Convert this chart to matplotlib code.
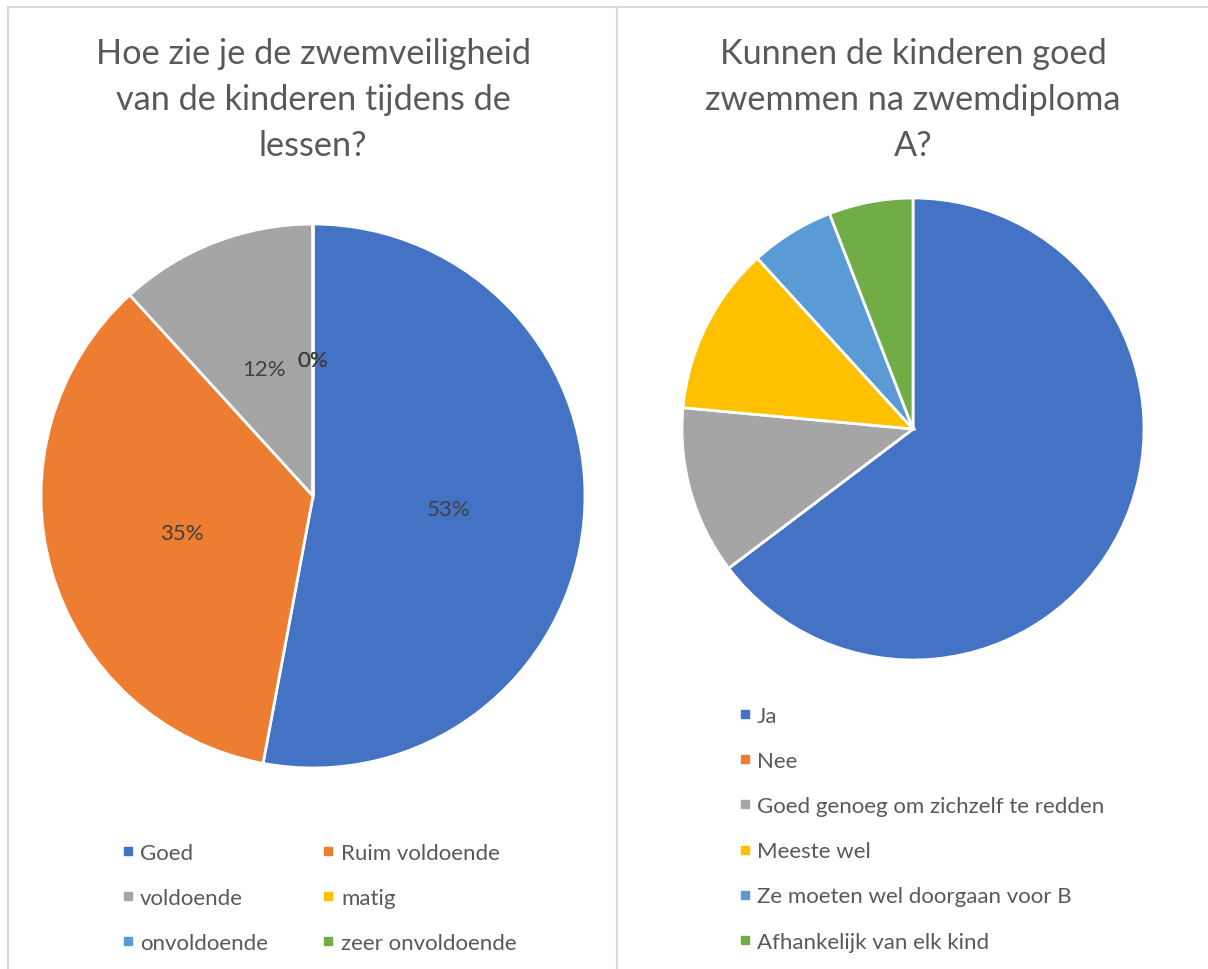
import matplotlib.pyplot as plt
from matplotlib.lines import Line2D
from matplotlib.patches import Rectangle

plt.rcParams['font.family'] = ['Lato', 'DejaVu Sans']

# left chart: safety during lessons (counts of answers)
cat_left = ['Goed', 'Ruim voldoende', 'voldoende', 'matig', 'onvoldoende', 'zeer onvoldoende']
val_left = [9, 6, 2, 0, 0, 0]
title_left = 'Hoe zie je de zwemveiligheid\nvan de kinderen tijdens de\nlessen?'

# right chart: can children swim after diploma A
cat_right = ['Ja', 'Nee', 'Goed genoeg om zichzelf te redden', 'Meeste wel',
             'Ze moeten wel doorgaan voor B', 'Afhankelijk van elk kind']
val_right = [11, 0, 2, 2, 1, 1]
title_right = 'Kunnen de kinderen goed\nzwemmen na zwemdiploma\nA?'

colors = ['#4472C4', '#ED7D31', '#A5A5A5', '#FFC000', '#5B9BD5', '#70AD47']
txt = '#595959'

W, H = 1208, 970
fig = plt.figure(figsize=(W / 100, H / 100), dpi=100)

def fx(px):
    return px / W

def fy(py):
    return 1 - py / H

# chart area borders
border = '#D9D9D9'
fig.patches.append(Rectangle((fx(8), fy(980)), fx(617 - 8), fy(8) - fy(980),
                             transform=fig.transFigure, fill=False, ec=border, lw=1.5))
fig.patches.append(Rectangle((fx(617), fy(980)), fx(1220 - 617), fy(8) - fy(980),
                             transform=fig.transFigure, fill=False, ec=border, lw=1.5))

def pie_axes(cx, cy, r):
    ax = fig.add_axes([fx(cx - r), fy(cy + r), (2 * r) / W, (2 * r) / H])
    return ax

ax1 = pie_axes(313, 497, 272)
wedges, _, autotexts = ax1.pie(val_left, colors=colors, startangle=90, counterclock=False,
                               autopct='%.0f%%', pctdistance=0.5,
                               wedgeprops=dict(edgecolor='white', linewidth=2),
                               textprops=dict(color='#404040', fontsize=16))
ax1.set_xlim(-1, 1)
ax1.set_ylim(-1, 1)
ax1.set_aspect('equal')

ax2 = pie_axes(913, 430, 231)
ax2.pie(val_right, colors=colors, startangle=90, counterclock=False,
        wedgeprops=dict(edgecolor='white', linewidth=2))
ax2.set_xlim(-1, 1)
ax2.set_ylim(-1, 1)
ax2.set_aspect('equal')

fig.text(fx(313), fy(100), title_left, ha='center', va='center', fontsize=24.7,
         color=txt, linespacing=1.52)
fig.text(fx(913), fy(100), title_right, ha='center', va='center', fontsize=24.7,
         color=txt, linespacing=1.52)

def handles(cats):
    return [Line2D([], [], marker='s', linestyle='', markersize=6, color=c, label=n)
            for n, c in zip(cats, colors)]

# two columns filled row by row, like the original legend
h_left = handles(cat_left)
h_left = h_left[0::2] + h_left[1::2]

fig.legend(handles=h_left, loc='upper left', ncol=2,
           bbox_to_anchor=(fx(122), fy(844)), frameon=False, fontsize=16,
           handlelength=0.5, handletextpad=0.32, columnspacing=2.45,
           labelspacing=1.13, borderpad=0, borderaxespad=0, labelcolor=txt)
fig.legend(handles=handles(cat_right), loc='upper left', ncol=1,
           bbox_to_anchor=(fx(739), fy(707)), frameon=False, fontsize=16,
           handlelength=0.5, handletextpad=0.32,
           labelspacing=1.13, borderpad=0, borderaxespad=0, labelcolor=txt)

fig.savefig('out.png', dpi=100, facecolor='white')
